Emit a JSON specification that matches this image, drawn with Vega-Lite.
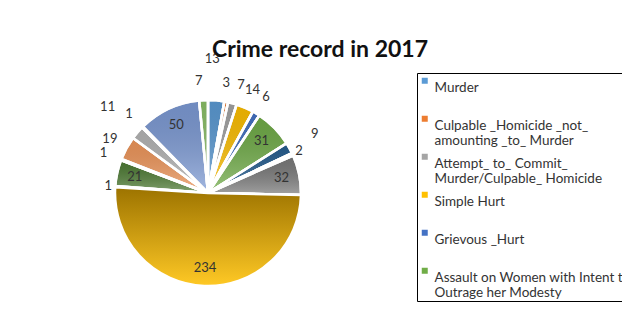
{
  "$schema": "https://vega.github.io/schema/vega-lite/v6.json",
  "width": 402,
  "height": 264,
  "autosize": "none",
  "padding": {"left": 7, "top": 61, "right": 213, "bottom": 0},
  "background": "white",
  "config": {"view": {"stroke": null}, "font": "Lato"},
  "title": {"text": "Crime record in 2017", "font": "Lato", "fontSize": 23, "fontWeight": "bold", "color": "#111111", "anchor": "middle", "offset": -28, "baseline": "alphabetic", "dx": 112},
  "data": {
    "values": [
      {"idx": 1, "cat": "Murder|", "n": 13},
      {"idx": 2, "cat": "Culpable _Homicide _not_|amounting _to_ Murder", "n": 3},
      {"idx": 3, "cat": "Attempt_ to_ Commit_|Murder/Culpable_ Homicide", "n": 7},
      {"idx": 4, "cat": "Simple Hurt|", "n": 14},
      {"idx": 5, "cat": "Grievous _Hurt|", "n": 6},
      {"idx": 6, "cat": "Assault on Women with Intent to|Outrage her Modesty", "n": 31},
      {"idx": 7, "cat": "Kidnapping_ and_ Abduction", "n": 9},
      {"idx": 8, "cat": "Rape", "n": 2},
      {"idx": 9, "cat": "Robbery", "n": 32},
      {"idx": 10, "cat": "Theft", "n": 234},
      {"idx": 11, "cat": "Dowry_ Deaths", "n": 1},
      {"idx": 12, "cat": "Burglary", "n": 21},
      {"idx": 13, "cat": "Riots", "n": 1},
      {"idx": 14, "cat": "Cheating", "n": 19},
      {"idx": 15, "cat": "Criminal_ Breach_ of_ Trust", "n": 11},
      {"idx": 16, "cat": "Arson", "n": 1},
      {"idx": 17, "cat": "Causing_ Death_ by_ Negligence", "n": 50},
      {"idx": 18, "cat": "Other_ IPC_ Crimes", "n": 7}
    ]
  },
  "encoding": {
    "theta": {"field": "n", "type": "quantitative", "stack": true},
    "order": {"field": "idx", "type": "quantitative"}
  },
  "layer": [
    {
      "mark": {"type": "arc", "outerRadius": 93, "stroke": "white", "strokeWidth": 2.5},
      "encoding": {
        "fill": {
          "field": "cat",
          "type": "nominal",
          "scale": {
            "domain": ["Murder|", "Culpable _Homicide _not_|amounting _to_ Murder", "Attempt_ to_ Commit_|Murder/Culpable_ Homicide", "Simple Hurt|", "Grievous _Hurt|", "Assault on Women with Intent to|Outrage her Modesty", "Kidnapping_ and_ Abduction", "Rape", "Robbery", "Theft", "Dowry_ Deaths", "Burglary", "Riots", "Cheating", "Criminal_ Breach_ of_ Trust", "Arson", "Causing_ Death_ by_ Negligence", "Other_ IPC_ Crimes"],
            "range": ["#5B9BD5", "#ED7D31", "#A5A5A5", "#FFC000", "#4472C4", "#70AD47", "#255E91", "#9E480E", "#7a7a7a", "#997300", "#264478", "#4f7d35", "#7CAFDD", "#F1975A", "#B7B7B7", "#FFCD33", "#7d9bd6", "#8CC168"]
          },
          "legend": {
            "values": ["Murder|", "Culpable _Homicide _not_|amounting _to_ Murder", "Attempt_ to_ Commit_|Murder/Culpable_ Homicide", "Simple Hurt|", "Grievous _Hurt|", "Assault on Women with Intent to|Outrage her Modesty"],
            "orient": "none",
            "legendX": 410,
            "legendY": 12,
            "title": null,
            "symbolType": "square",
            "symbolSize": 36,
            "symbolStrokeWidth": 0,
            "labelFont": "Lato",
            "labelFontSize": 13.5,
            "labelColor": "#333333",
            "labelExpr": "split(datum.label, '|')",
            "labelLimit": 0,
            "labelLineHeight": 20,
            "labelBaseline": "top",
            "labelOffset": 3,
            "rowPadding": 2,
            "padding": 1,
            "strokeColor": "#000000",
            "fillColor": "white"
          }
        }
      }
    },
    {
      "mark": {"type": "arc", "outerRadius": 93, "stroke": "white", "strokeWidth": 2.5, "fill": {"gradient": "linear", "x1": 0, "y1": 0, "x2": 0, "y2": 1, "stops": [{"offset": 0, "color": "rgba(0,0,0,0.10)"}, {"offset": 1, "color": "rgba(255,255,255,0.30)"}]}},
      "encoding": {
        "fillOpacity": {"condition": {"test": "datum.cat === 'Theft'", "value": 0}, "value": 1}
      }
    },
    {
      "mark": {"type": "arc", "outerRadius": 93, "stroke": "white", "strokeWidth": 2.5, "fill": {"gradient": "linear", "x1": 0, "y1": 0, "x2": 0, "y2": 1, "stops": [{"offset": 0, "color": "#9c7300"}, {"offset": 1, "color": "#ffc925"}]}},
      "encoding": {
        "fillOpacity": {"condition": {"test": "datum.cat === 'Theft'", "value": 1}, "value": 0},
        "strokeOpacity": {"condition": {"test": "datum.cat === 'Theft'", "value": 1}, "value": 0}
      }
    },
    {
      "mark": {"type": "text", "radius": 75, "font": "Lato", "fontSize": 13, "color": "#333333"},
      "encoding": {
        "text": {"field": "n", "type": "quantitative"},
        "opacity": {"condition": {"test": "indexof([6, 9, 10, 12, 17], datum.idx) >= 0", "value": 1}, "value": 0}
      }
    },
    {
      "mark": {"type": "text", "radius": 100, "font": "Lato", "fontSize": 13, "color": "#333333"},
      "encoding": {
        "text": {"field": "n", "type": "quantitative"},
        "opacity": {"condition": {"test": "indexof([8, 11], datum.idx) >= 0", "value": 1}, "value": 0}
      }
    },
    {
      "mark": {"type": "text", "radius": 112, "font": "Lato", "fontSize": 13, "color": "#333333"},
      "encoding": {
        "text": {"field": "n", "type": "quantitative"},
        "opacity": {"condition": {"test": "indexof([4, 5, 13, 14, 16], datum.idx) >= 0", "value": 1}, "value": 0}
      }
    },
    {
      "mark": {"type": "text", "radius": 112, "align": "right", "font": "Lato", "fontSize": 13, "color": "#333333"},
      "encoding": {
        "text": {"field": "n", "type": "quantitative"},
        "opacity": {"condition": {"test": "datum.idx == 2 || datum.idx == 18", "value": 1}, "value": 0}
      }
    },
    {
      "mark": {"type": "text", "radius": 112, "align": "left", "font": "Lato", "fontSize": 13, "color": "#333333"},
      "encoding": {
        "text": {"field": "n", "type": "quantitative"},
        "opacity": {"condition": {"test": "datum.idx == 3", "value": 1}, "value": 0}
      }
    },
    {
      "mark": {"type": "text", "radius": 122, "font": "Lato", "fontSize": 13, "color": "#333333"},
      "encoding": {
        "text": {"field": "n", "type": "quantitative"},
        "opacity": {"condition": {"test": "datum.idx == 7", "value": 1}, "value": 0}
      }
    },
    {
      "mark": {"type": "text", "radius": 132, "font": "Lato", "fontSize": 13, "color": "#333333"},
      "encoding": {
        "text": {"field": "n", "type": "quantitative"},
        "opacity": {"condition": {"test": "datum.idx == 15", "value": 1}, "value": 0}
      }
    },
    {
      "mark": {"type": "text", "radius": 135, "align": "right", "font": "Lato", "fontSize": 13, "color": "#333333"},
      "encoding": {
        "text": {"field": "n", "type": "quantitative"},
        "opacity": {"condition": {"test": "datum.idx == 1", "value": 1}, "value": 0}
      }
    }
  ]
}
